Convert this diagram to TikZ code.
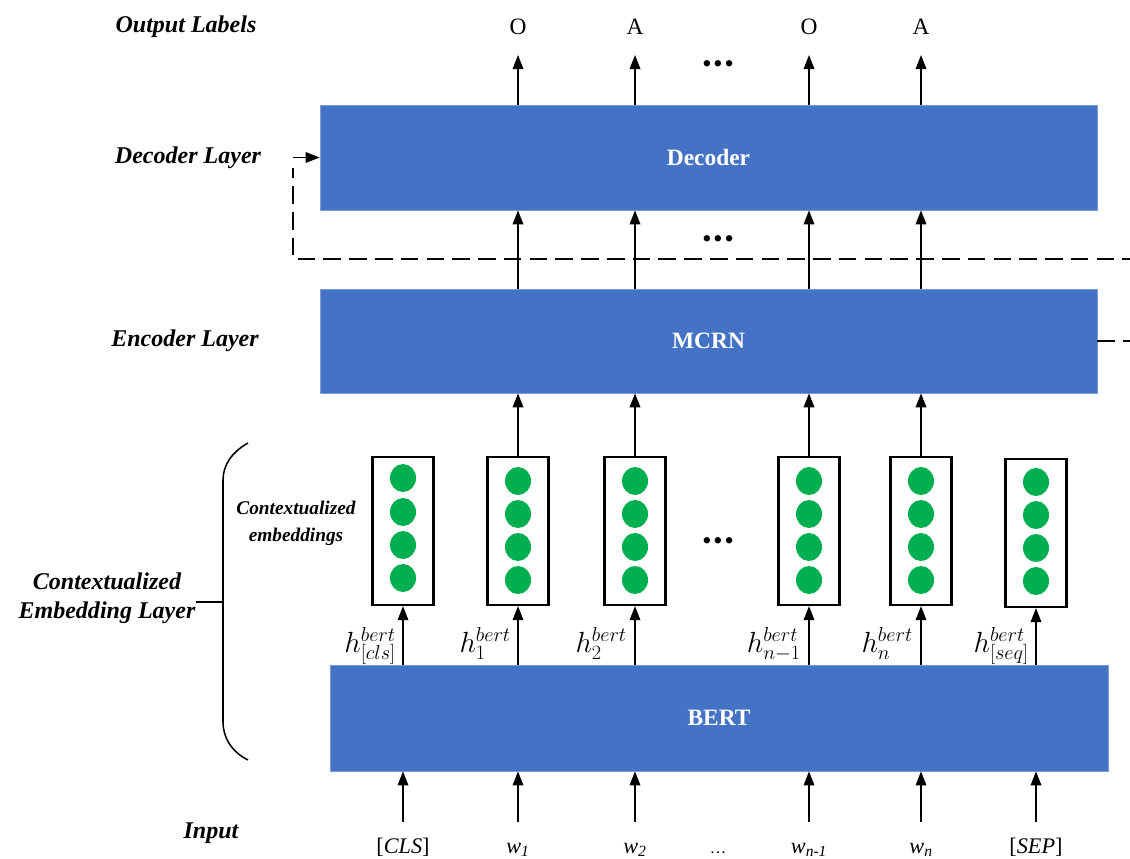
\documentclass[tikz,border=0pt]{standalone}
\usepackage{fontspec}
\setmainfont{Liberation Serif}
\usetikzlibrary{arrows.meta}
\definecolor{layerblue}{HTML}{4472C4}
\definecolor{embgreen}{HTML}{00B050}
\newlength\pxu \setlength\pxu{0.03cm}
\tikzset{
layerbox/.style={fill=layerblue,draw=layerblue!70!white,line width=0.6pt,inner sep=0pt,text=white,font=\fontsize{20}{24}\selectfont\bfseries},
embbox/.style={draw=black,line width=1.8pt,minimum width=61\pxu,minimum height=148\pxu,inner sep=0pt},
sidelbl/.style={font=\fontsize{20.5}{25}\selectfont\bfseries\itshape,align=center,inner sep=0pt},
outtxt/.style={font=\fontsize{20}{24}\selectfont,inner sep=0pt},
intxt/.style={font=\fontsize{19}{23}\selectfont,inner sep=0pt,anchor=base},
hlbl/.style={font=\fontsize{27}{30}\selectfont,inner sep=0pt,anchor=base east},
dots/.style={font=\fontsize{20}{20}\selectfont\bfseries,inner sep=0pt},
arr/.style={-{Triangle[length=12pt,width=9pt]},line width=1.5pt},
fb/.style={line width=1.7pt,dash pattern=on 15pt off 7pt}
}
\begin{document}
\begin{tikzpicture}[x=0.03cm,y=-0.03cm]
\useasboundingbox (0,0) rectangle (1130,858);
\node[sidelbl] (lout) at (186,27) {Output Labels};
\node[sidelbl] (ldec) at (188,158) {Decoder Layer};
\node[sidelbl] (lenc) at (185,341) {Encoder Layer};
\node[sidelbl] (lemb) at (107,598) {Contextualized\\Embedding Layer};
\node[sidelbl,font=\fontsize{16.5}{23}\selectfont\bfseries\itshape] (lvec) at (296,523) {Contextualized\\embeddings};
\node[sidelbl] (lin) at (211,833) {Input};
\node[layerbox,minimum width=777\pxu,minimum height=105\pxu] (dec) at (708.5,157.5) {Decoder};
\node[layerbox,minimum width=777\pxu,minimum height=104\pxu] (mcrn) at (708.5,341) {MCRN};
\node[layerbox,minimum width=778\pxu,minimum height=106\pxu] (bert) at (719,718) {BERT};
\node[embbox] (e0) at (403,531) {};\node[embbox] (e1) at (518,531) {};\node[embbox] (e2) at (635,531) {};
\node[embbox] (e3) at (809,531) {};\node[embbox] (e4) at (921,531) {};\node[embbox] (e5) at (1036,533) {};
\fill[embgreen] (403,478) ellipse (13 and 14);\fill[embgreen] (403,512) ellipse (13 and 14);\fill[embgreen] (403,545) ellipse (13 and 14);\fill[embgreen] (403,578) ellipse (13 and 14);
\fill[embgreen] (518,481) ellipse (13 and 14);\fill[embgreen] (518,514) ellipse (13 and 14);\fill[embgreen] (518,547) ellipse (13 and 14);\fill[embgreen] (518,580) ellipse (13 and 14);
\fill[embgreen] (635,481) ellipse (13 and 14);\fill[embgreen] (635,514) ellipse (13 and 14);\fill[embgreen] (635,547) ellipse (13 and 14);\fill[embgreen] (635,580) ellipse (13 and 14);
\fill[embgreen] (809,481) ellipse (13 and 14);\fill[embgreen] (809,514) ellipse (13 and 14);\fill[embgreen] (809,547) ellipse (13 and 14);\fill[embgreen] (809,580) ellipse (13 and 14);
\fill[embgreen] (921,481) ellipse (13 and 14);\fill[embgreen] (921,514) ellipse (13 and 14);\fill[embgreen] (921,547) ellipse (13 and 14);\fill[embgreen] (921,580) ellipse (13 and 14);
\fill[embgreen] (1036,482) ellipse (13 and 14);\fill[embgreen] (1036,515) ellipse (13 and 14);\fill[embgreen] (1036,548) ellipse (13 and 14);\fill[embgreen] (1036,581) ellipse (13 and 14);
\node[outtxt] (o1) at (e1 |- lout) {O};\node[outtxt] (a1) at (e2 |- lout) {A};\node[outtxt] (o2) at (e3 |- lout) {O};\node[outtxt] (a2) at (e4 |- lout) {A};
\node[dots] (dtop) at (718,66) {\textbullet\kern2.5pt\textbullet\kern2.5pt\textbullet};
\node[dots] (dmid) at (718,241) {\textbullet\kern2.5pt\textbullet\kern2.5pt\textbullet};
\node[dots] (demb) at (718,543) {\textbullet\kern2.5pt\textbullet\kern2.5pt\textbullet};
\coordinate (outbot) at (0,55);\coordinate (intop) at (0,822);
\draw[arr] (dec.north -| o1) -- (o1 |- outbot);\draw[arr] (dec.north -| a1) -- (a1 |- outbot);\draw[arr] (dec.north -| o2) -- (o2 |- outbot);\draw[arr] (dec.north -| a2) -- (a2 |- outbot);
\draw[arr] (mcrn.north -| e1) -- (dec.south -| e1);\draw[arr] (mcrn.north -| e2) -- (dec.south -| e2);\draw[arr] (mcrn.north -| e3) -- (dec.south -| e3);\draw[arr] (mcrn.north -| e4) -- (dec.south -| e4);
\draw[arr] (e1.north) -- (mcrn.south -| e1);\draw[arr] (e2.north) -- (mcrn.south -| e2);\draw[arr] (e3.north) -- (mcrn.south -| e3);\draw[arr] (e4.north) -- (mcrn.south -| e4);
\draw[arr] (bert.north -| e0) -- (e0.south);\draw[arr] (bert.north -| e1) -- (e1.south);\draw[arr] (bert.north -| e2) -- (e2.south);
\draw[arr] (bert.north -| e3) -- (e3.south);\draw[arr] (bert.north -| e4) -- (e4.south);\draw[arr] (bert.north -| e5) -- (e5.south);
\node[hlbl] (h0) at (396,652) {$h^{bert}_{[cls]}$};\node[hlbl] (h1) at (511,652) {$h^{bert}_{1}$};\node[hlbl] (h2) at (627,652) {$h^{bert}_{2}$};
\node[hlbl] (h3) at (801,652) {$h^{bert}_{n-1}$};\node[hlbl] (h4) at (913,652) {$h^{bert}_{n}$};\node[hlbl] (h5) at (1029,652) {$h^{bert}_{[seq]}$};
\node[intxt] (in0) at (403,853) {[\textit{CLS}]};\node[intxt] (in1) at (518,853) {\textit{w}\textsubscript{\textit{1}}};
\node[intxt] (in2) at (635,853) {\textit{w}\textsubscript{\textit{2}}};\node[intxt] (indots) at (718,853) {\fontsize{14}{14}\selectfont\dots};
\node[intxt] (in3) at (809,853) {\textit{w}\textsubscript{\textit{n-1}}};\node[intxt] (in4) at (921,853) {\textit{w}\textsubscript{\textit{n}}};
\node[intxt] (in5) at (1036,853) {[\textit{SEP}]};
\draw[arr] (in0 |- intop) -- (in0 |- bert.south);\draw[arr] (in1 |- intop) -- (in1 |- bert.south);\draw[arr] (in2 |- intop) -- (in2 |- bert.south);
\draw[arr] (in3 |- intop) -- (in3 |- bert.south);\draw[arr] (in4 |- intop) -- (in4 |- bert.south);\draw[arr] (in5 |- intop) -- (in5 |- bert.south);
\coordinate (fbR) at (1140,259);\coordinate (fbL) at (293,259);\coordinate (fbS) at (1140,341);\coordinate (fbT) at (293,168);
\draw[fb] (mcrn.east) -- (fbS);
\draw[fb] (fbR) -- (fbL) -- (fbT);
\draw[arr] (fbL |- dec.west) -- (dec.west);
\draw[line width=1.3pt] (248,443) .. controls (232,452) and (223,465) .. (223,480) -- (223,722) .. controls (223,738) and (232,752) .. (248,760);
\draw[line width=1.3pt] (lemb.east |- 0,602) -- (223,602);
\end{tikzpicture}
\end{document}
